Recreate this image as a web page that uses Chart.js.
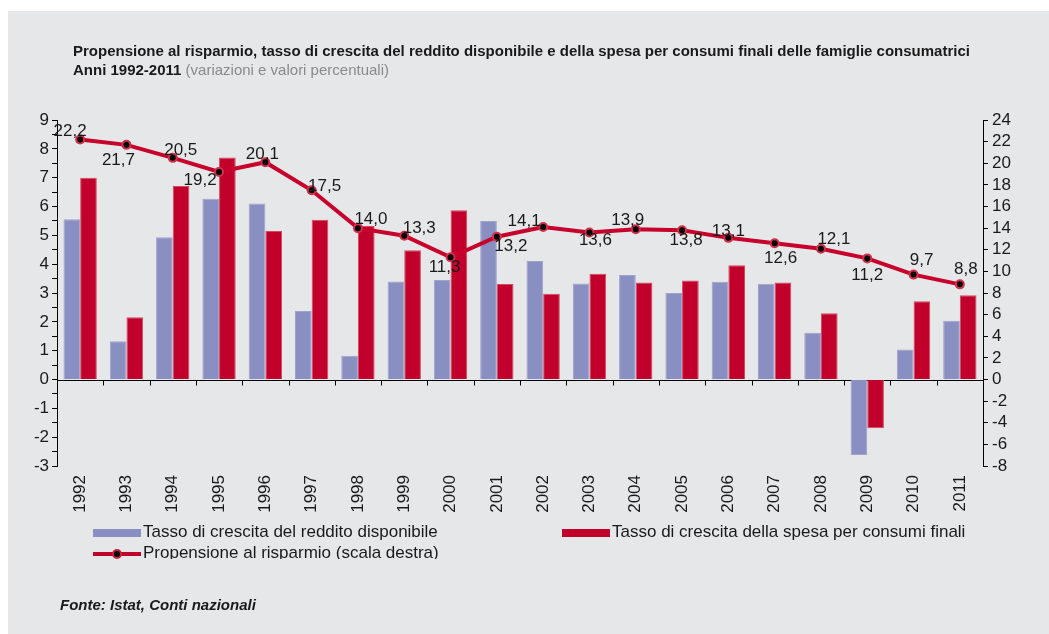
<!DOCTYPE html>
<html lang="it">
<head>
<meta charset="utf-8">
<title>Propensione al risparmio 1992-2011</title>
<script src="https://cdn.jsdelivr.net/npm/chart.js@4.4.1/dist/chart.umd.min.js"></script>
<style>
  html, body { margin: 0; padding: 0; background: #ffffff; }
  body { width: 1049px; height: 634px; position: relative; overflow: hidden; font-family: "Liberation Sans", Arial, sans-serif; }
  #sfondo { position: absolute; left: 8px; top: 11px; width: 1041px; height: 623px; background: #e6e7e9; }
  #grafico { position: absolute; left: 0; top: 0; }
  .titolo { position: absolute; left: 73px; top: 41px; font-size: 15px; font-weight: bold; color: #1a1a1a; white-space: nowrap; line-height: 19px; }
  .titolo .nota { font-weight: normal; color: #8a8a8a; }
  #legenda { position: absolute; left: 93px; top: 522px; width: 900px; height: 37px; overflow: hidden; font-size: 17px; color: #1a1a1a; }
  .voce { position: absolute; white-space: nowrap; line-height: 20px; }
  .voce .box { position: absolute; left: 0; top: 7px; width: 48px; height: 8px; }
  .voce span.txt { position: absolute; left: 50px; top: 0; }
  .linea .seg { position: absolute; left: 0; top: 9px; width: 48px; height: 4px; background: #c1002b; }
  .linea .pt { position: absolute; left: 19px; top: 6px; width: 6px; height: 6px; border-radius: 50%; background: #000; border: 2px solid #c8203c; }
  .fonte { position: absolute; left: 60px; top: 596px; font-size: 15px; font-weight: bold; font-style: italic; color: #1a1a1a; }
</style>
</head>
<body>
<div id="sfondo"></div>
<canvas id="grafico" width="1049" height="634"></canvas>
<div class="titolo">Propensione al risparmio, tasso di crescita del reddito disponibile e della spesa per consumi finali delle famiglie consumatrici<br>Anni 1992-2011 <span class="nota">(variazioni e valori percentuali)</span></div>
<div id="legenda">
  <div class="voce" style="left:0; top:0;"><div class="box" style="background:#8a8fc2"></div><span class="txt">Tasso di crescita del reddito disponibile</span></div>
  <div class="voce" style="left:469px; top:0;"><div class="box" style="background:#c1002b"></div><span class="txt">Tasso di crescita della spesa per consumi finali</span></div>
  <div class="voce linea" style="left:0; top:21px;"><div class="seg"></div><div class="pt"></div><span class="txt">Propensione al risparmio (scala destra)</span></div>
</div>
<div class="fonte">Fonte: Istat, Conti nazionali</div>

<script>
// Anni e serie (valori percentuali)
const anni = ["1992", "1993", "1994", "1995", "1996", "1997", "1998", "1999", "2000", "2001",
              "2002", "2003", "2004", "2005", "2006", "2007", "2008", "2009", "2010", "2011"];

const redditoDisponibile = [5.56, 1.33, 4.93, 6.27, 6.10, 2.38, 0.82, 3.40, 3.45, 5.50,
                            4.11, 3.33, 3.62, 3.00, 3.39, 3.32, 1.62, -2.62, 1.04, 2.04];

const spesaConsumi = [7.00, 2.16, 6.71, 7.70, 5.15, 5.54, 5.32, 4.48, 5.87, 3.31,
                      2.97, 3.67, 3.36, 3.43, 3.96, 3.36, 2.30, -1.69, 2.71, 2.92];

const propensioneRisparmio = [22.2, 21.7, 20.5, 19.2, 20.1, 17.5, 14.0, 13.3, 11.3, 13.2,
                              14.1, 13.6, 13.9, 13.8, 13.1, 12.6, 12.1, 11.2, 9.7, 8.8];

// Spostamento delle etichette rispetto al punto (px)
const offsetEtichette = [
  [-10, -8], [-8, 15], [8, -8], [-19, 8], [-3, -8], [13, -4], [13, -9], [15, -7], [-6, 10], [14, 10],
  [-19, -6], [6, 8], [-8, -9], [4, 10], [0, -7], [6, 15], [13, -9], [0, 17], [8, -14], [6, -15]
];

const FONT = "'Liberation Sans', Arial, sans-serif";

// Etichette con i valori della propensione al risparmio
const etichettePlugin = {
  id: "etichette",
  afterDatasetsDraw(chart) {
    const ctx = chart.ctx;
    const meta = chart.getDatasetMeta(2);
    ctx.save();
    ctx.font = "17px " + FONT;
    ctx.fillStyle = "#1a1a1a";
    ctx.textAlign = "center";
    ctx.textBaseline = "middle";
    meta.data.forEach((p, i) => {
      const testo = propensioneRisparmio[i].toFixed(1).replace(".", ",");
      const [dx, dy] = offsetEtichette[i];
      ctx.fillText(testo, p.x + dx, p.y + dy);
    });
    ctx.restore();
  }
};

// Linea dello zero con le tacche tra le categorie
const assezeroPlugin = {
  id: "assezero",
  beforeDatasetsDraw(chart) {
    const ctx = chart.ctx;
    const xs = chart.scales.x;
    const y0 = Math.round(chart.scales.y.getPixelForValue(0)) + 0.5;
    const w = xs.getPixelForValue(1) - xs.getPixelForValue(0);
    ctx.save();
    ctx.strokeStyle = "#000";
    ctx.lineWidth = 1;
    ctx.beginPath();
    ctx.moveTo(chart.chartArea.left, y0);
    ctx.lineTo(chart.chartArea.right, y0);
    for (let i = 0; i <= anni.length; i++) {
      const x = Math.round(xs.getPixelForValue(0) - w / 2 + i * w) + 0.5;
      ctx.moveTo(x, y0);
      ctx.lineTo(x, y0 + 5);
    }
    ctx.stroke();
    ctx.restore();
  }
};

new Chart(document.getElementById("grafico"), {
  type: "bar",
  data: {
    labels: anni,
    datasets: [
      {
        label: "Tasso di crescita del reddito disponibile",
        data: redditoDisponibile,
        backgroundColor: "#8a8fc2",
        borderColor: "#9ea2cc",
        borderWidth: 1,
        yAxisID: "y",
        order: 2
      },
      {
        label: "Tasso di crescita della spesa per consumi finali",
        data: spesaConsumi,
        backgroundColor: "#c1002b",
        borderColor: "#d44860",
        borderWidth: 1,
        yAxisID: "y",
        order: 2
      },
      {
        type: "line",
        label: "Propensione al risparmio (scala destra)",
        data: propensioneRisparmio,
        borderColor: "#c8002c",
        borderWidth: 4,
        pointRadius: 4,
        pointBackgroundColor: "#000",
        pointBorderColor: "#d0304a",
        pointBorderWidth: 2,
        tension: 0,
        yAxisID: "y2",
        order: 0
      }
    ]
  },
  options: {
    responsive: false,
    animation: false,
    categoryPercentage: 0.72,
    barPercentage: 1.0,
    layout: { padding: { top: 120, left: 0, right: 0, bottom: 0 } },
    plugins: {
      legend: { display: false },
      tooltip: { enabled: false }
    },
    scales: {
      x: {
        grid: { display: false },
        border: { display: false },
        ticks: {
          color: "#1a1a1a",
          font: { family: FONT, size: 17 },
          minRotation: 90,
          maxRotation: 90,
          padding: 1,
          autoSkip: false
        },
        afterFit(scale) { scale.height = 168; }
      },
      y: {
        position: "left",
        min: -3,
        max: 9,
        ticks: {
          stepSize: 0.5,
          autoSkip: false,
          color: "#1a1a1a",
          font: { family: FONT, size: 17 },
          padding: 3,
          callback: v => Number.isInteger(v) ? String(v) : ""
        },
        grid: { drawOnChartArea: false, color: "#000", tickLength: 5 },
        border: { display: true, color: "#000" },
        afterFit(scale) { scale.width = 57; }
      },
      y2: {
        position: "right",
        min: -8,
        max: 24,
        ticks: {
          stepSize: 2,
          autoSkip: false,
          color: "#1a1a1a",
          font: { family: FONT, size: 17 },
          padding: 4
        },
        grid: { drawOnChartArea: false, color: "#000", tickLength: 5 },
        border: { display: true, color: "#000" },
        afterFit(scale) { scale.width = 66; }
      }
    }
  },
  plugins: [assezeroPlugin, etichettePlugin]
});
</script>
</body>
</html>
